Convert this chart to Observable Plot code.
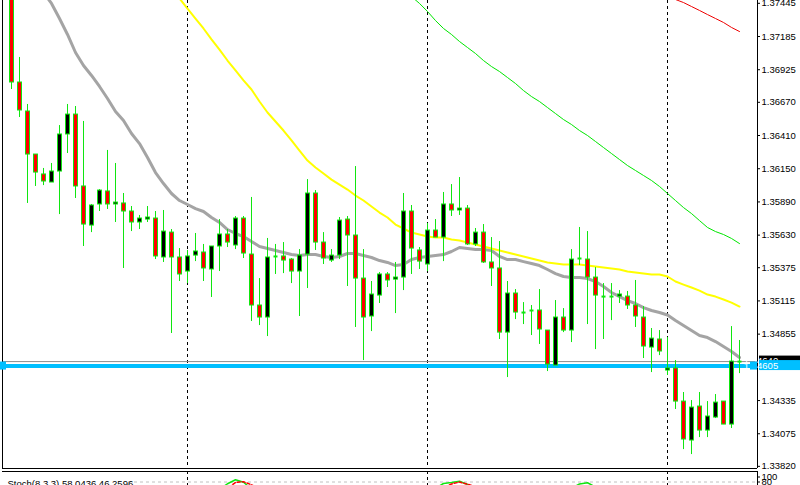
<!DOCTYPE html>
<html><head><meta charset="utf-8">
<script src="https://cdn.jsdelivr.net/npm/d3@7"></script>
<script src="https://cdn.jsdelivr.net/npm/@observablehq/plot@0.6"></script>
<style>
html,body{margin:0;padding:0;background:#fff;overflow:hidden;}
#chart svg{display:block;}
#gap{height:2px;background:#fff;}
</style></head><body><div id="chart"></div>
<script>
const openP = [1.37506,1.36825,1.36598,1.36261,1.36105,1.36042,1.36128,1.36418,1.36574,1.36011,
1.35705,1.35870,1.35972,1.35870,1.35878,1.35815,1.35729,1.35752,1.35760,1.35455,
1.35650,1.35455,1.35345,1.35470,1.35494,1.35361,1.35541,1.35635,1.35549,1.35760,
1.35478,1.35079,1.34985,1.35463,1.35463,1.35439,1.35345,1.35478,1.35956,1.35572,
1.35431,1.35470,1.35752,1.35627,1.35290,1.34993,1.35157,1.35322,1.35282,1.35298,
1.35815,1.35510,1.35400,1.35666,1.35611,1.35870,1.35823,1.35838,1.35557,1.35650,
1.35416,1.35369,1.34867,1.35173,1.35024,1.35040,1.35040,1.34883,1.34609,1.34985,
1.34883,1.35447,1.35439,1.35298,1.35149,1.35149,1.35149,1.35149,1.35079,1.34985,
1.34750,1.34813,1.34570,1.34586,1.34327,1.34022,1.34288,1.34100,1.34202,1.34327,
1.34147,1.34640];
const highP = [1.37530,1.37021,1.36653,1.36261,1.36152,1.36191,1.36488,1.36653,1.36637,1.36520,
1.35870,1.35987,1.36293,1.36191,1.35956,1.35854,1.35784,1.35854,1.35815,1.35823,
1.35674,1.35525,1.35510,1.35643,1.35557,1.35541,1.35752,1.35674,1.35776,1.35776,
1.35925,1.35290,1.35604,1.35557,1.35572,1.35447,1.35517,1.36065,1.35979,1.35650,
1.35517,1.35768,1.35776,1.36167,1.35517,1.35267,1.35337,1.35337,1.35416,1.35956,
1.35862,1.35533,1.35721,1.35752,1.35964,1.36026,1.36081,1.35862,1.35682,1.35713,
1.35611,1.35580,1.35267,1.35204,1.35102,1.35079,1.35204,1.34883,1.35118,1.35055,
1.35517,1.35690,1.35658,1.35376,1.35251,1.35251,1.35196,1.35189,1.35275,1.35071,
1.34899,1.34883,1.34828,1.34648,1.34398,1.34335,1.34398,1.34327,1.34382,1.34327,
1.34914,1.34805];
const lowP = [1.36770,1.36551,1.35878,1.36011,1.36018,1.36042,1.35791,1.36269,1.35917,1.35541,
1.35650,1.35815,1.35831,1.35729,1.35369,1.35658,1.35674,1.35729,1.35439,1.35416,
1.34860,1.35267,1.35251,1.35423,1.35267,1.35142,1.35345,1.35533,1.35517,1.35447,
1.34954,1.34922,1.34836,1.35322,1.35329,1.35251,1.34993,1.35212,1.35510,1.35400,
1.35416,1.35439,1.35228,1.34907,1.34648,1.34875,1.35095,1.35220,1.35016,1.35196,
1.35322,1.35361,1.35345,1.35611,1.35423,1.35776,1.35784,1.35549,1.35541,1.35408,
1.35228,1.34813,1.34515,1.34969,1.34930,1.34844,1.34774,1.34562,1.34609,1.34867,
1.34789,1.35392,1.34930,1.34734,1.34813,1.34961,1.35095,1.35048,1.34907,1.34664,
1.34554,1.34687,1.34531,1.34265,1.33951,1.33912,1.34045,1.34045,1.34194,1.34147,
1.34116,1.34546];
const closeP = [1.36825,1.36606,1.36261,1.36120,1.36050,1.36128,1.36418,1.36574,1.36011,1.35713,
1.35862,1.35979,1.35870,1.35885,1.35815,1.35729,1.35760,1.35768,1.35463,1.35658,
1.35455,1.35322,1.35463,1.35502,1.35369,1.35541,1.35635,1.35572,1.35760,1.35486,
1.35079,1.34985,1.35455,1.35463,1.35431,1.35345,1.35470,1.35956,1.35572,1.35447,
1.35470,1.35744,1.35627,1.35290,1.34985,1.35165,1.35322,1.35275,1.35298,1.35815,
1.35525,1.35423,1.35666,1.35611,1.35870,1.35823,1.35838,1.35557,1.35650,1.35416,
1.35369,1.34867,1.35173,1.35024,1.35024,1.35040,1.34891,1.34617,1.34985,1.34883,
1.35439,1.35447,1.35298,1.35157,1.35149,1.35149,1.35165,1.35079,1.34993,1.34758,
1.34820,1.34719,1.34586,1.34327,1.34030,1.34280,1.34100,1.34210,1.34319,1.34147,
1.34640,1.34640];

const grayStart = 4;
const grayMA = [1.37530,1.37444,1.37326,1.37201,1.37060,1.36958,1.36880,1.36794,1.36700,1.36598,
1.36527,1.36426,1.36347,1.36238,1.36120,1.36034,1.35956,1.35901,1.35870,1.35838,
1.35815,1.35768,1.35729,1.35674,1.35643,1.35619,1.35580,1.35541,1.35525,1.35510,
1.35494,1.35478,1.35470,1.35478,1.35478,1.35463,1.35455,1.35463,1.35486,1.35486,
1.35470,1.35455,1.35431,1.35416,1.35392,1.35400,1.35439,1.35455,1.35463,1.35470,
1.35478,1.35502,1.35533,1.35525,1.35517,1.35517,1.35510,1.35463,1.35439,1.35439,
1.35423,1.35408,1.35392,1.35361,1.35329,1.35306,1.35298,1.35298,1.35290,1.35267,
1.35228,1.35181,1.35149,1.35118,1.35095,1.35063,1.35040,1.35024,1.35005,1.34961,
1.34922,1.34883,1.34844,1.34828,1.34797,1.34758,1.34719,1.34672];
const yellowStart = 21;
const yellowMA = [1.37483,1.37404,1.37326,1.37248,1.37162,1.37083,1.36997,1.36919,1.36841,1.36770,
1.36676,1.36590,1.36520,1.36449,1.36371,1.36292,1.36214,1.36160,1.36112,1.36065,
1.36026,1.35987,1.35940,1.35901,1.35854,1.35807,1.35768,1.35713,1.35682,1.35650,
1.35635,1.35619,1.35611,1.35611,1.35596,1.35588,1.35572,1.35557,1.35541,1.35525,
1.35510,1.35494,1.35478,1.35463,1.35447,1.35431,1.35416,1.35408,1.35400,1.35400,
1.35400,1.35392,1.35384,1.35376,1.35369,1.35361,1.35345,1.35337,1.35329,1.35322,
1.35322,1.35306,1.35267,1.35243,1.35220,1.35196,1.35165,1.35149,1.35126,1.35102,
1.35071];
const greenStart = 50;
const greenMA = [1.37498,1.37444,1.37381,1.37310,1.37248,1.37201,1.37146,1.37099,1.37052,1.36997,
1.36950,1.36911,1.36864,1.36817,1.36762,1.36715,1.36676,1.36629,1.36582,1.36535,
1.36496,1.36449,1.36410,1.36363,1.36316,1.36269,1.36222,1.36175,1.36136,1.36097,
1.36058,1.36011,1.35956,1.35901,1.35846,1.35799,1.35744,1.35690,1.35658,1.35635,
1.35604,1.35564];
const redStart = 83;
const redMA = [1.37475,1.37451,1.37420,1.37389,1.37357,1.37326,1.37295,1.37256,1.37224];

const separators = [22, 52, 82];
const priceTicks = [1.37445,1.37185,1.36925,1.36670,1.36410,1.36150,1.35890,1.35630,
1.35375,1.35115,1.34855,1.34335,1.34075,1.33820];
const bidPrice = 1.34640;
const hlinePrice = 1.34605;

const stochK = [26,27,28,29,30,31, 53,54,55,56,57,58,59, 70,71,72,73];
const stochMain = [50,73,89,79,52,40, 55,74,78,83,70,50,40, 55,72,77,60];
const stochSignal = [45,55,78,81,69,52, 45,58,72,80,71,62,50, 50,55,62,58];
const stochTicks = [100, 80];
const stochLevel = 80;
const stochLabel = "Stoch(8,3,3) 58.0436 46.2596";

const candles = openP.map((o, i) => ({i, o, h: highP[i], l: lowP[i], c: closeP[i]}));
const series = (arr, start) => arr.map((v, j) => ({i: j + start, v}));
const stoch = stochK.map((k, j) => ({i: k, m: stochMain[j], s: stochSignal[j]}));

const lime = "#10e610";
const xDomain = [-1.125, 93.25];
const yDomain = [1.33803, 1.37467];
const subDomain = [66, 122];
const font = {fontFamily: "'Liberation Sans', Arial, sans-serif", fontSize: "9.5px", background: "white", color: "black", overflow: "hidden"};

const main = Plot.plot({
  width: 800, height: 469, marginLeft: 2, marginRight: 43, marginTop: 0, marginBottom: 1,
  style: font,
  x: {domain: xDomain, axis: null},
  y: {domain: yDomain, axis: "right", ticks: priceTicks, tickSize: 2, tickPadding: 2, tickFormat: d => d.toFixed(5), label: null},
  marks: [
    Plot.ruleX(separators, {x: d => d, stroke: "black", strokeDasharray: "3,3"}),
    Plot.ruleY([bidPrice], {stroke: "#8c8c8c"}),
    Plot.ruleY([hlinePrice], {stroke: "#00bfff", strokeWidth: 4}),
    Plot.line(series(grayMA, grayStart), {x: "i", y: "v", stroke: "#a4a4a4", strokeWidth: 3, clip: true}),
    Plot.line(series(yellowMA, yellowStart), {x: "i", y: "v", stroke: "#ffff00", strokeWidth: 2, clip: true}),
    Plot.line(series(greenMA, greenStart), {x: "i", y: "v", stroke: "#00e600", strokeWidth: 1, clip: true}),
    Plot.line(series(redMA, redStart), {x: "i", y: "v", stroke: "#ee0000", strokeWidth: 1, clip: true}),
    Plot.ruleX(candles, {x: "i", y1: "l", y2: "h", stroke: lime, clip: true}),
    Plot.rect(candles.filter(d => d.o !== d.c), {x1: d => d.i - 0.1875, x2: d => d.i + 0.3125, y1: "o", y2: "c",
      fill: d => d.c > d.o ? "black" : "red", stroke: lime, strokeWidth: 1, clip: true}),
    Plot.ruleY(candles.filter(d => d.o === d.c), {y: "o", x1: d => d.i - 0.1875, x2: d => d.i + 0.3125, stroke: lime, strokeWidth: 2}),
    Plot.ruleX([xDomain[0]], {x: d => d, stroke: "black"}),
    Plot.ruleX([xDomain[1]], {x: d => d, stroke: "black"}),
    Plot.ruleY([yDomain[0]], {y: d => d, stroke: "black"})
  ]
});

const sub = Plot.plot({
  width: 800, height: 14, marginLeft: 2, marginRight: 43, marginTop: 0, marginBottom: 0,
  style: font,
  x: {domain: xDomain, axis: null},
  y: {domain: subDomain, axis: "right", ticks: stochTicks, tickSize: 2, tickPadding: 2, label: null},
  marks: [
    Plot.ruleX(separators, {x: d => d, stroke: "black", strokeDasharray: "3,3"}),
    Plot.ruleY([stochLevel], {y: d => d, stroke: "#c0c0c0", strokeDasharray: "3,3"}),
    Plot.line(stoch, {x: "i", y: "m", stroke: "#10e610", clip: true}),
    Plot.line(stoch, {x: "i", y: "s", stroke: "red", strokeDasharray: "3,2", clip: true}),
    Plot.text([stochLabel], {frameAnchor: "top-left", dx: 5, dy: 8.5, text: d => d, textAnchor: "start", fill: "black", fontSize: 9.5}),
    Plot.ruleY([subDomain[1]], {y: d => d, stroke: "black"}),
    Plot.ruleX([xDomain[0]], {x: d => d, stroke: "black"}),
    Plot.ruleX([xDomain[1]], {x: d => d, stroke: "black"})
  ]
});

const root = document.getElementById("chart");
root.appendChild(main);
const gap = document.createElement("div"); gap.id = "gap"; root.appendChild(gap);
root.appendChild(sub);

// price labels on the right axis, placed with the plot's own y scale
const ys = main.scale("y");
const svg = d3.select(main);
function priceLabel(price, bg, fg) {
  const y = ys.apply(price);
  const g = svg.append("g");
  g.append("rect").attr("x", 759).attr("y", y - 5.5).attr("width", 41).attr("height", 10).attr("fill", bg);
  g.append("text").attr("x", 761).attr("y", y).attr("dy", "0.34em").attr("fill", fg)
    .attr("font-family", "'Liberation Sans', Arial, sans-serif").attr("font-size", "9.5px").text(price.toFixed(5));
}
priceLabel(bidPrice, "black", "white");
priceLabel(hlinePrice, "#00bfff", "white");
const hy = ys.apply(hlinePrice);
svg.append("rect").attr("x", 0).attr("y", hy - 4).attr("width", 6).attr("height", 8).attr("fill", "#00bfff");
svg.append("rect").attr("x", 750).attr("y", hy - 4).attr("width", 7).attr("height", 8).attr("fill", "#00bfff");

// white backing behind the stochastic caption
const subSvg = d3.select(sub);
const t = subSvg.selectAll("text").filter(function() { return this.textContent === stochLabel; }).node();
if (t) {
  const b = t.getBBox();
  subSvg.insert("rect", "g").attr("x", b.x - 1).attr("y", b.y).attr("width", b.width + 2).attr("height", b.height).attr("fill", "white");
  const bg = subSvg.append("rect").attr("x", b.x - 1).attr("y", 1).attr("width", b.width + 2).attr("height", 13).attr("fill", "white");
  subSvg.node().appendChild(t.parentNode);
}
</script></body></html>
